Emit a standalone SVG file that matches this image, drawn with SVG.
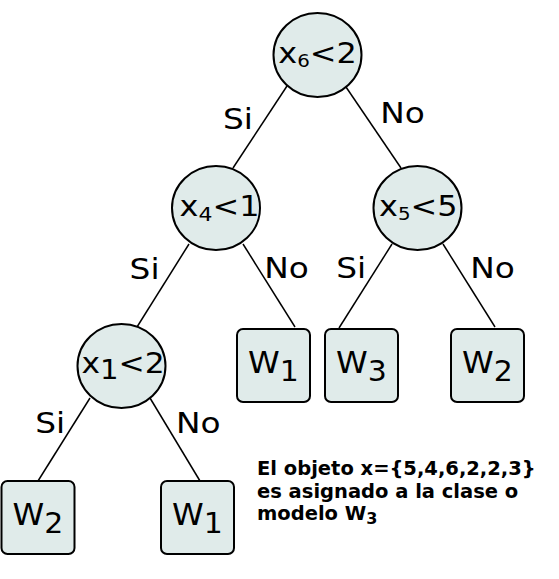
<svg xmlns="http://www.w3.org/2000/svg" width="559" height="579" viewBox="0 0 559 579">
<style>
.n{fill:#e0ebea;stroke:#000;stroke-width:2}
.t{font-family:"DejaVu Sans",sans-serif;font-size:29px;fill:#000;text-anchor:middle}
.w{font-family:"DejaVu Sans",sans-serif;font-size:30px;fill:#000;text-anchor:middle}
.l{font-family:"DejaVu Sans",sans-serif;font-size:28.5px;fill:#000}
.c line{stroke:#000;stroke-width:1.5}
.a{font-family:"DejaVu Sans",sans-serif;font-size:19.5px;font-weight:bold;fill:#000}
</style>
<rect width="559" height="579" fill="#fff"/>
<g class="c" id="connectors">
<line x1="287" y1="86" x2="233" y2="168"/>
<line x1="346" y1="87" x2="401" y2="168"/>
<line x1="189" y1="244" x2="137" y2="327"/>
<line x1="243" y1="244" x2="295" y2="327"/>
<line x1="392" y1="244" x2="339" y2="328"/>
<line x1="443" y1="244" x2="495" y2="327"/>
<line x1="90" y1="398" x2="38" y2="481"/>
<line x1="150" y1="398" x2="200" y2="481"/>
</g>
<g id="labels">
<text class="l" transform="translate(223,129.3) scale(1.15,1)">Si</text>
<text class="l" transform="translate(380.3,123.3) scale(1.15,1)">No</text>
<text class="l" transform="translate(129.6,279.3) scale(1.15,1)">Si</text>
<text class="l" transform="translate(264.3,278.3) scale(1.15,1)">No</text>
<text class="l" transform="translate(336.3,278.3) scale(1.15,1)">Si</text>
<text class="l" transform="translate(470.3,278.3) scale(1.15,1)">No</text>
<text class="l" transform="translate(35.3,433.3) scale(1.15,1)">Si</text>
<text class="l" transform="translate(176,433.3) scale(1.15,1)">No</text>
</g>
<g id="root"><ellipse class="n" cx="317.5" cy="55" rx="44" ry="42"/><text class="t" transform="translate(317.5,63.3) scale(1.1,1)">x<tspan font-size="18" dy="4">6</tspan><tspan dy="-4">&lt;2</tspan></text></g>
<g id="n_x4"><ellipse class="n" cx="216" cy="208" rx="44" ry="42"/><text class="t" transform="translate(219.5,216.3) scale(1.1,1)">x<tspan font-size="20" dy="5">4</tspan><tspan dy="-5">&lt;1</tspan></text></g>
<g id="n_x5"><ellipse class="n" cx="417.5" cy="208" rx="44" ry="42"/><text class="t" transform="translate(418.3,216) scale(1.1,1)">x<tspan font-size="18" dy="4">5</tspan><tspan dy="-4">&lt;5</tspan></text></g>
<g id="n_x1"><ellipse class="n" cx="121.5" cy="366" rx="44" ry="42"/><text class="t" transform="translate(123,373.3) scale(1.08,1)">x<tspan font-size="27" dy="6">1</tspan><tspan dy="-6">&lt;2</tspan></text></g>
<g id="leaf_w1a"><rect class="n" x="237" y="329" width="73" height="73" rx="6"/><text class="w" transform="translate(273.5,373) scale(1.07,1)">W<tspan font-size="28" dy="8">1</tspan></text></g>
<g id="leaf_w3"><rect class="n" x="325" y="329" width="73" height="73" rx="6"/><text class="w" transform="translate(361.5,373) scale(1.07,1)">W<tspan font-size="28" dy="8">3</tspan></text></g>
<g id="leaf_w2a"><rect class="n" x="451" y="329" width="73" height="73" rx="6"/><text class="w" transform="translate(487.5,373) scale(1.07,1)">W<tspan font-size="28" dy="8">2</tspan></text></g>
<g id="leaf_w2b"><rect class="n" x="1.5" y="481" width="73" height="73" rx="6"/><text class="w" transform="translate(38,525) scale(1.07,1)">W<tspan font-size="28" dy="8">2</tspan></text></g>
<g id="leaf_w1b"><rect class="n" x="161" y="481" width="73" height="73" rx="6"/><text class="w" transform="translate(197.5,525) scale(1.07,1)">W<tspan font-size="28" dy="8">1</tspan></text></g>
<g id="note">
<text class="a" x="257" y="475">El objeto x={5,4,6,2,2,3}</text>
<text class="a" x="257" y="497.5">es asignado a la clase o</text>
<text class="a" x="257" y="520">modelo W<tspan font-size="16" dy="4">3</tspan></text>
</g>
</svg>
